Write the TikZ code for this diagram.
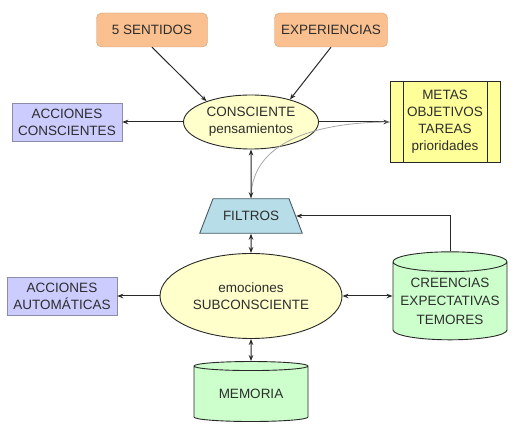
\documentclass[tikz,border=0pt]{standalone}
\usepackage{fontspec}
\setmainfont{Liberation Sans}
\usetikzlibrary{shapes.geometric,arrows.meta}
\definecolor{fuente}{RGB}{45,45,45}
\definecolor{naranja}{RGB}{250,192,144}
\definecolor{bordenaranja}{RGB}{200,160,120}
\definecolor{lila}{RGB}{204,204,255}
\definecolor{bordelila}{RGB}{140,140,170}
\definecolor{crema}{RGB}{255,255,204}
\definecolor{amarillo}{RGB}{255,255,153}
\definecolor{celeste}{RGB}{183,222,232}
\definecolor{bordeceleste}{RGB}{70,90,100}
\definecolor{verde}{RGB}{204,255,204}
\definecolor{linea}{RGB}{40,40,40}
\tikzset{
  texto/.style={font=\fontsize{13.5}{17}\selectfont, text=fuente, align=center, inner sep=0pt},
  fuentebox/.style={texto, rectangle, rounded corners=5pt, draw=bordenaranja, fill=naranja, minimum height=34pt},
  accion/.style={texto, rectangle, draw=bordelila, fill=lila, minimum width=110pt, minimum height=38pt},
  mente/.style={texto, ellipse, draw=linea, fill=crema, line width=0.9pt},
  deposito/.style={texto, cylinder, shape border rotate=90, draw=linea, fill=verde, line width=0.9pt, minimum width=114pt},
  flecha/.style={draw=linea, line width=1pt, -{Stealth[length=6pt,width=4.5pt]}},
  dflecha/.style={draw=linea, line width=1pt, {Stealth[length=6pt,width=4.5pt]}-{Stealth[length=6pt,width=4.5pt]}}
}
\begin{document}
\begin{tikzpicture}[x=1pt,y=1pt]
\useasboundingbox (0,0) rectangle (522,428);
% arriba
\node[fuentebox, minimum width=111pt] (sentidos) at (152,398) {5 SENTIDOS};
\node[fuentebox, minimum width=113pt] (experiencias) at (331,398) {EXPERIENCIAS};
\node[mente, minimum width=135pt, minimum height=54pt] (consciente) at (251,306) {CONSCIENTE\\pensamientos};
\node[accion] (accconsc) at (67,306) {ACCIONES\\CONSCIENTES};
\node[texto, draw=linea, fill=amarillo, line width=0.9pt, minimum width=110pt, minimum height=81pt] (metas) at (445,306) {METAS\\OBJETIVOS\\TAREAS\\prioridades};
\draw[linea, line width=0.9pt] ([xshift=14pt]metas.north west) -- ([xshift=14pt]metas.south west)
  ([xshift=-13pt]metas.north east) -- ([xshift=-13pt]metas.south east);
% filtro
\node[texto, trapezium, trapezium angle=69, inner xsep=10pt, inner ysep=12.5pt, draw=bordeceleste, fill=celeste, line width=0.9pt] (filtros) at (251,212) {FILTROS};
% abajo
\node[mente, minimum width=182pt, minimum height=85pt] (subconsciente) at (251,132) {emociones\\SUBCONSCIENTE};
\node[accion] (accauto) at (62,132) {ACCIONES\\AUTOMÁTICAS};
\node[deposito, minimum height=88pt, aspect=0.2] (creencias) at (450,127) {CREENCIAS\\[1.5pt]EXPECTATIVAS\\[1.5pt]TEMORES};
\node[deposito, minimum height=60pt, aspect=0.14] (memoria) at (251,34) {MEMORIA};
% conexiones
\draw[flecha] (sentidos.south) -- (consciente.155);
\draw[flecha] (experiencias.south) -- (consciente.30);
\draw[flecha] (consciente.west) -- (accconsc.east);
\draw[flecha] (consciente.east) -- (metas.west);
\draw[gray!70, line width=0.8pt] (metas.west) to[out=180,in=90] (filtros.north);
\draw[dflecha] (consciente.south) -- (filtros.north);
\draw[dflecha] (filtros.south) -- (subconsciente.north);
\draw[flecha] (subconsciente.west) -- (accauto.east);
\draw[dflecha] (subconsciente.east) -- (creencias.west |- subconsciente.east);
\draw[dflecha] (subconsciente.south) -- (memoria.north);
\draw[flecha] (creencias.north) |- (filtros.east);
\end{tikzpicture}
\end{document}
